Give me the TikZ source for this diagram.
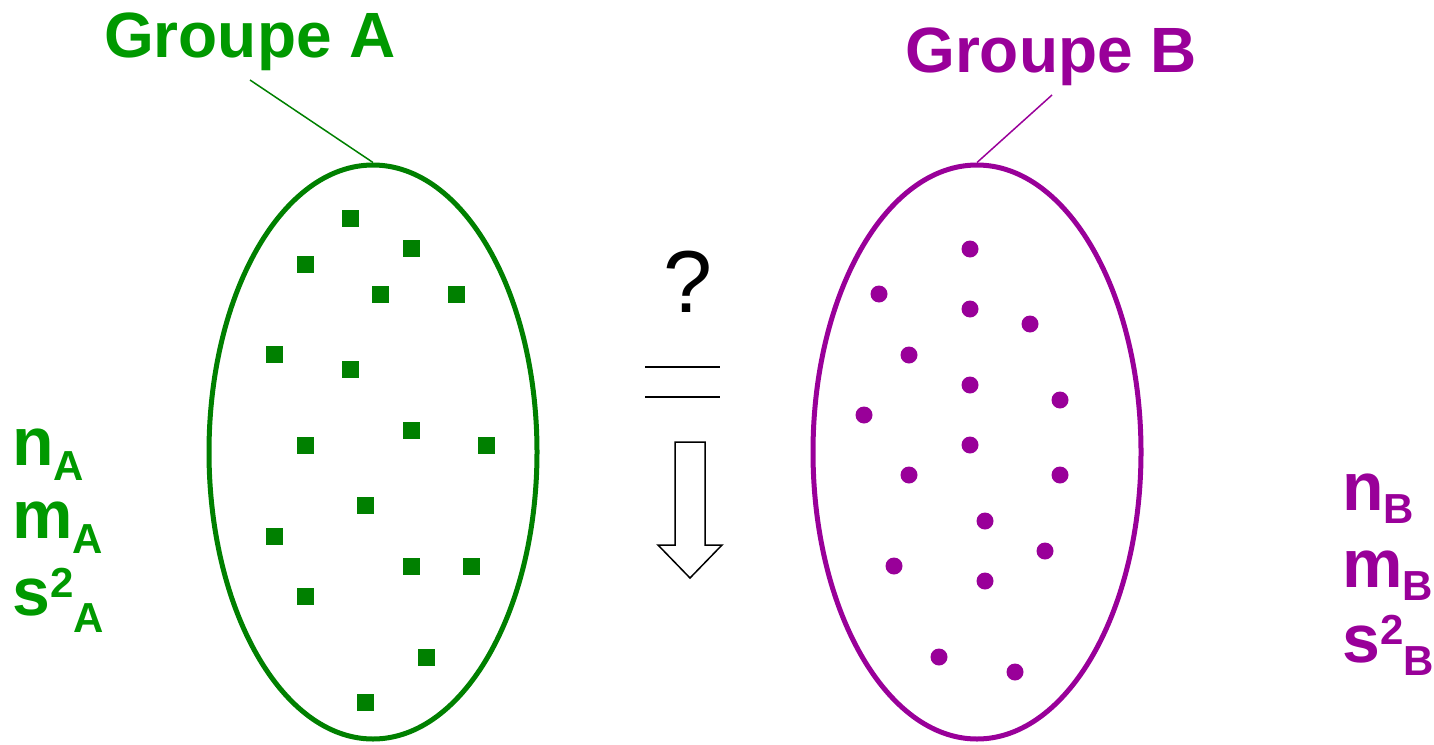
\documentclass[tikz,border=0pt]{standalone}
\usepackage{fontspec}
\setmainfont{Liberation Sans}
\usetikzlibrary{shapes.geometric}
\definecolor{gtext}{RGB}{0,153,0}
\definecolor{gdark}{RGB}{0,128,0}
\definecolor{purp}{RGB}{153,0,153}
\tikzset{
  title/.style={font=\fontsize{64}{64}\selectfont\bfseries, anchor=base west, inner sep=0pt},
  stat/.style={font=\fontsize{68}{68}\selectfont\bfseries, anchor=base west, inner sep=0pt},
  grp/.style={ellipse, draw, line width=5pt, minimum width=328pt, minimum height=574pt, inner sep=0pt},
  sq/.style={rectangle, fill=gdark, minimum size=17pt, inner sep=0pt},
  dot/.style={circle, fill=purp, minimum size=17pt, inner sep=0pt},
  thin/.style={line width=1.5pt},
}
\newcommand{\lowr}[2]{\raisebox{-#1pt}{\fontsize{42}{42}\selectfont #2}}
\newcommand{\upr}[2]{\raisebox{#1pt}{\fontsize{42}{42}\selectfont #2}}
\begin{document}
\begin{tikzpicture}[x=1pt,y=-1pt]
\useasboundingbox (0,0) rectangle (1434,744);
% titles
\node[title, text=gtext] (gA) at (104,57) {Groupe A};
\node[title, text=purp] (gB) at (905,72) {Groupe B};
% ellipses
\node[grp, draw=gdark] (elA) at (373,452) {};
\node[grp, draw=purp] (elB) at (977,452) {};
% leader lines
\coordinate (tA) at (250,80);
\coordinate (tB) at (1052,95);
\draw[gdark, line width=1.5pt] (tA) -- (elA.north);
\draw[purp, line width=1.5pt] (tB) -- (elB.north);
% squares
\foreach \x/\y [count=\i] in {350/218,411/248,305/264,380/294,456/294,274/354,350/369,411/430,305/445,486/445,365/505,274/536,411/566,471/566,305/596,426/657,365/702}
  \node[sq] (sq\i) at (\x,\y) {};
% dots
\foreach \x/\y [count=\i] in {970/249,879/294,970/309,1030/324,909/355,970/385,1060/400,864/415,970/445,909/475,1060/475,985/521,1045/551,894/566,985/581,939/657,1015/672}
  \node[dot] (dt\i) at (\x,\y) {};
% stats A
\node[stat, text=gtext] (nA) at (12,465) {n\lowr{15}{A}};
\node[stat, text=gtext] (mA) at (12,538) {m\lowr{15}{A}};
\node[stat, text=gtext] (sA) at (12,615) {s\upr{18}{2}\lowr{17}{A}};
% stats B
\node[stat, text=purp] (nB) at (1342,510) {n\lowr{13}{B}};
\node[stat, text=purp] (mB) at (1342,587) {m\lowr{13}{B}};
\node[stat, text=purp] (sB) at (1342,662) {s\upr{18}{2}\lowr{13}{B}};
% middle
\node[font=\fontsize{88}{88}\selectfont, anchor=base, inner sep=0pt] (q) at (688,312) {?};
\coordinate (l1a) at (645,367); \coordinate (l1b) at (720,367);
\coordinate (l2a) at (645,397); \coordinate (l2b) at (720,397);
\draw[thin] (l1a) -- (l1b);
\draw[thin] (l2a) -- (l2b);
\draw[thin, line join=miter] (675,442) -- (705,442) -- (705,545) -- (722,545) -- (690,578) -- (658,545) -- (675,545) -- cycle;
\end{tikzpicture}
\end{document}
